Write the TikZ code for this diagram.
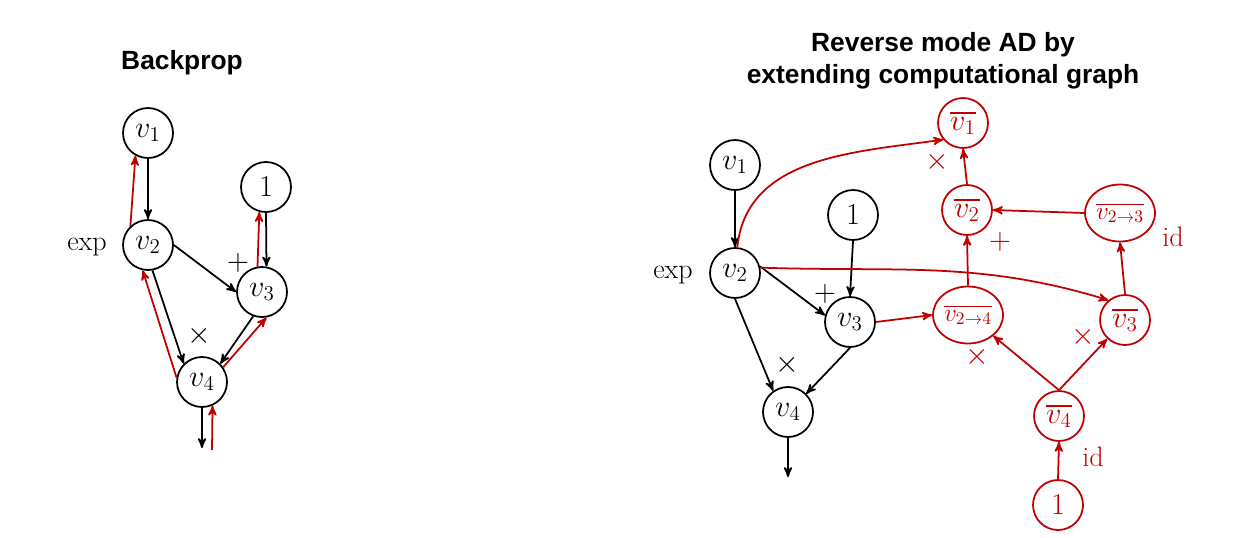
\documentclass[tikz,border=0pt]{standalone}
\usepackage{amsmath}
\usepackage{amssymb}
\usepackage{fontspec}
\usepackage{tikz}
\usetikzlibrary{arrows,shapes.geometric}
\newfontfamily\titlefont{Liberation Sans}
\definecolor{adred}{RGB}{192,0,0}

\begin{document}
\begin{tikzpicture}[x=0.02cm, y=-0.02cm, >=stealth',
    var/.style={circle, draw, line width=1pt, minimum size=1cm, inner sep=0pt,
                font=\fontsize{16.5}{18}\selectfont},
    adj/.style={var, draw=adred, text=adred},
    adjell/.style={ellipse, draw=adred, text=adred, line width=1pt, minimum width=1.4cm,
                   minimum height=1.14cm, inner sep=0pt, font=\fontsize{14}{16}\selectfont},
    lbl/.style={font=\fontsize{16}{18}\selectfont},
    arrow/.style={->, line width=1pt},
    back/.style={->, line width=1pt, adred}]
    \useasboundingbox (0,0) rectangle (1239,537);

    % backprop on the left
    \node[font=\titlefont\bfseries\fontsize{15}{18}\selectfont] (ttlA) at (182,63) {Backprop};
    \node[var] (a1) at (148,133) {$v_1$};
    \node[var] (a2) at (148,245) {$v_2$};
    \node[var] (aone) at (266,187) {$1$};
    \node[var] (a3) at (262,292) {$v_3$};
    \node[var] (a4) at (202,382) {$v_4$};
    \node[lbl] (aexp) at (87,247) {exp};
    \node[lbl] (aplus) at (238,263) {$+$};
    \node[lbl] (atimes) at (199,336) {$\times$};
    \coordinate (aout) at (202,448);
    \coordinate (ain) at (212,450);
    \draw[arrow] (a1.south) -- (a2.north);
    \draw[arrow] (aone.south) -- (a3.80);
    \draw[arrow] (a2.east) -- (a3.west);
    \draw[arrow] (a2.280) -- (a4.135);
    \draw[arrow] (a3.250) -- (a4.45);
    \draw[arrow] (a4.south) -- (aout);
    \draw[back] (a2.133) -- (a1.241);
    \draw[back] (a3.100) -- (aone.255);
    \draw[back] (a4.170) -- (a2.258);
    \draw[back] (a4.35) -- (a3.280);
    \draw[back] (ain) -- (a4.294);

    % reverse mode AD on the right
    \node[font=\titlefont\bfseries\fontsize{15}{18}\selectfont, align=center] (ttlB) at (943,61)
        {Reverse mode AD by\\extending computational graph};
    \node[var] (b1) at (735,165) {$v_1$};
    \node[var] (bone) at (853,215) {$1$};
    \node[var] (b2) at (735,273) {$v_2$};
    \node[var] (b3) at (850,322) {$v_3$};
    \node[var] (b4) at (788,412) {$v_4$};
    \node[lbl] (bexp) at (673,275) {exp};
    \node[lbl] (bplus) at (825,294) {$+$};
    \node[lbl] (btimes) at (787,365) {$\times$};
    \coordinate (bout) at (788,477);
    \draw[arrow] (b1.south) -- (b2.north);
    \draw[arrow] (bone.south) -- (b3.north);
    \draw[arrow] (b2.15) -- (b3.165);
    \draw[arrow] (b2.south) -- (b4.125);
    \draw[arrow] (b3.south) -- (b4.45);
    \draw[arrow] (b4.south) -- (bout);

    \node[adj] (g1) at (963,123) {$\overline{v_1}$};
    \node[adj] (g2) at (967,210) {$\overline{v_2}$};
    \node[adjell] (g23) at (1120,213) {$\overline{v_{2\to3}}$};
    \node[adjell] (g24) at (968,315) {$\overline{v_{2\to4}}$};
    \node[adj] (g3) at (1125,320) {$\overline{v_3}$};
    \node[adj] (g4) at (1059,416) {$\overline{v_4}$};
    \node[adj] (gone) at (1058,505) {$1$};
    \node[lbl, adred] (gtimesA) at (937,162) {$\times$};
    \node[lbl, adred] (gplus) at (1000,242) {$+$};
    \node[lbl, adred] (gidA) at (1173,237) {id};
    \node[lbl, adred] (gtimesB) at (977,357) {$\times$};
    \node[lbl, adred] (gtimesC) at (1083,337) {$\times$};
    \node[lbl, adred] (gidB) at (1093,457) {id};
    \draw[back] (b2.85) to[out=84, in=188] (g1.220);
    \draw[back] (b2.12) to[out=-2, in=163] (g3.130);
    \draw[back] (b3.east) -- (g24.west);
    \draw[back] (g24.north) -- (g2.south);
    \draw[back] (g2.north) -- (g1.south);
    \draw[back] (g23.west) -- (g2.east);
    \draw[back] (g3.north) -- (g23.south);
    \draw[back] (g4.north) -- (g24);
    \draw[back] (g4.north) -- (g3);
    \draw[back] (gone.north) -- (g4.south);
\end{tikzpicture}
\end{document}
